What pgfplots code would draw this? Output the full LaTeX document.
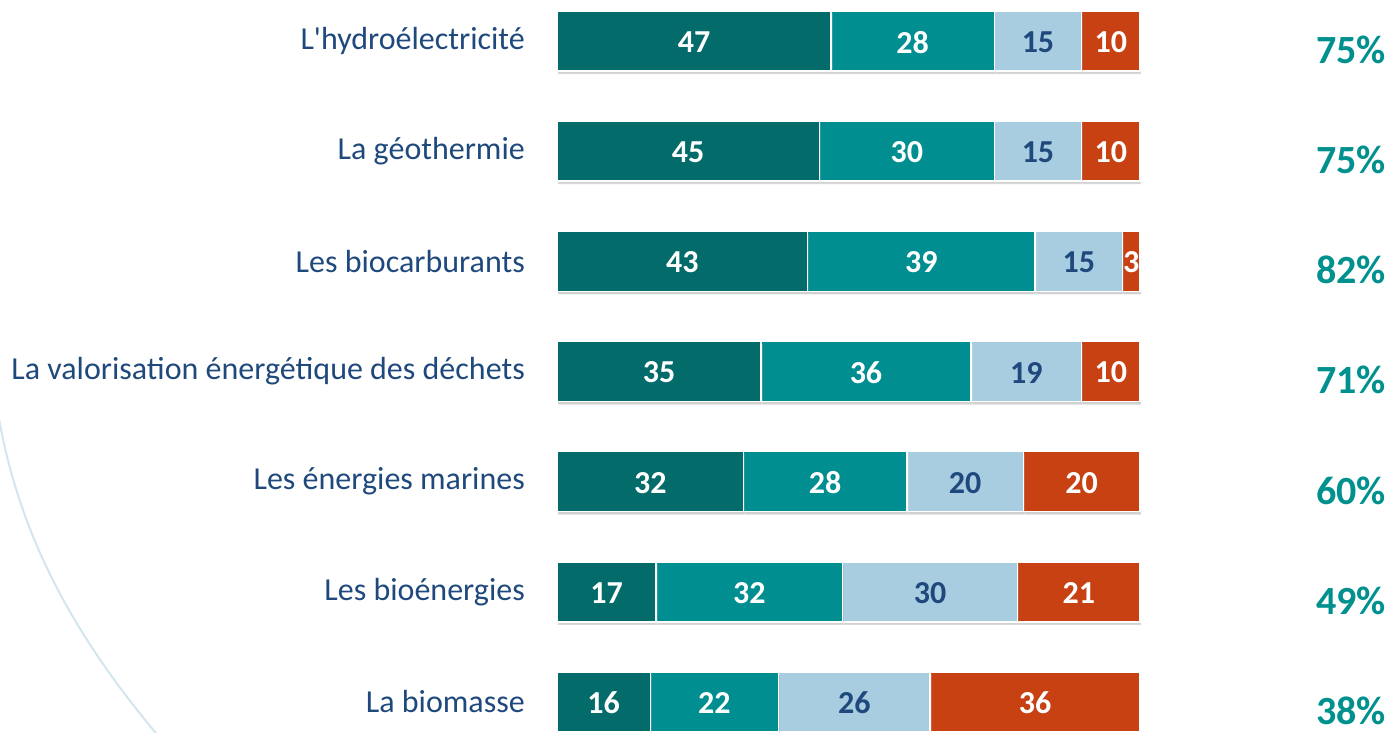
\documentclass[border=0pt]{standalone}
\usepackage{fontspec}
\setmainfont{Carlito}
\usepackage{pgfplots}
\pgfplotsset{compat=1.18}
\usepackage{pgfplotstable}
\usetikzlibrary{shadows}
\definecolor{cA}{HTML}{046B6B}
\definecolor{cB}{HTML}{008E91}
\definecolor{cC}{HTML}{A9CDE0}
\definecolor{cD}{HTML}{C84113}
\definecolor{lab}{HTML}{1F497D}
\definecolor{pct}{HTML}{00918F}
\definecolor{arc}{HTML}{D3E6EF}
\pgfplotstableread{
y a b c d
0 47 28 15 10
1 45 30 15 10
2 43 39 15 3
3 35 36 19 10
4 32 28 20 20
5 17 32 30 21
6 16 22 26 36
}\datatable
\begin{document}
\begin{tikzpicture}
\useasboundingbox (0,0) rectangle (1390pt,733pt);
\draw[color=arc, line width=2pt] (-2pt,320pt) .. controls (20pt,190pt) and (80pt,90pt) .. (160pt,-5pt);
\begin{axis}[
  at={(557pt,0pt)}, anchor=south west,
  scale only axis, width=583pt, height=733pt,
  xbar stacked, bar width=60pt,
  xmin=0, xmax=100, ymin=-0.373, ymax=6.282, y dir=reverse,
  axis line style={draw=none}, tick style={draw=none},
  xtick=\empty, ytick={0,...,6},
  yticklabels={L\textquotesingle hydroélectricité, La géothermie, Les biocarburants, La valorisation énergétique des déchets, Les énergies marines, Les bioénergies, La biomasse},
  yticklabel style={font=\fontsize{32}{36}\selectfont, text=lab, inner sep=0pt, xshift=-32pt},
  clip=false,
  /pgf/number format/assume math mode=true,
  point meta=explicit,
  barsh/.style={draw=white, line width=1.5pt, drop shadow={shadow xshift=1pt, shadow yshift=-3pt, opacity=0.18, fill=black}},
  lbl/.style={nodes near coords,
    every node near coord/.append style={anchor=center, yshift=-1pt, font=\bfseries\fontsize{32}{34}\selectfont}},
]
\addplot[fill=cA, barsh, lbl, nodes near coords style={text=white}] table[x=a, y=y, meta=a]{\datatable};
\addplot[fill=cB, barsh, lbl, nodes near coords style={text=white}] table[x=b, y=y, meta=b]{\datatable};
\addplot[fill=cC, barsh, lbl, nodes near coords style={text=lab}] table[x=c, y=y, meta=c]{\datatable};
\addplot[fill=cD, barsh, lbl, nodes near coords style={text=white}] table[x=d, y=y, meta=d]{\datatable};
\pgfplotsforeachungrouped \i/\p in {0/75,1/75,2/82,3/71,4/60,5/49,6/38}{
  \edef\tmp{\noexpand\node[anchor=east, inner sep=0pt, font=\noexpand\bfseries\noexpand\fontsize{40}{44}\noexpand\selectfont, text=pct] at (axis cs:142.2,\i.08) {\p\noexpand\%};}
  \tmp
}
\end{axis}
\end{tikzpicture}
\end{document}
